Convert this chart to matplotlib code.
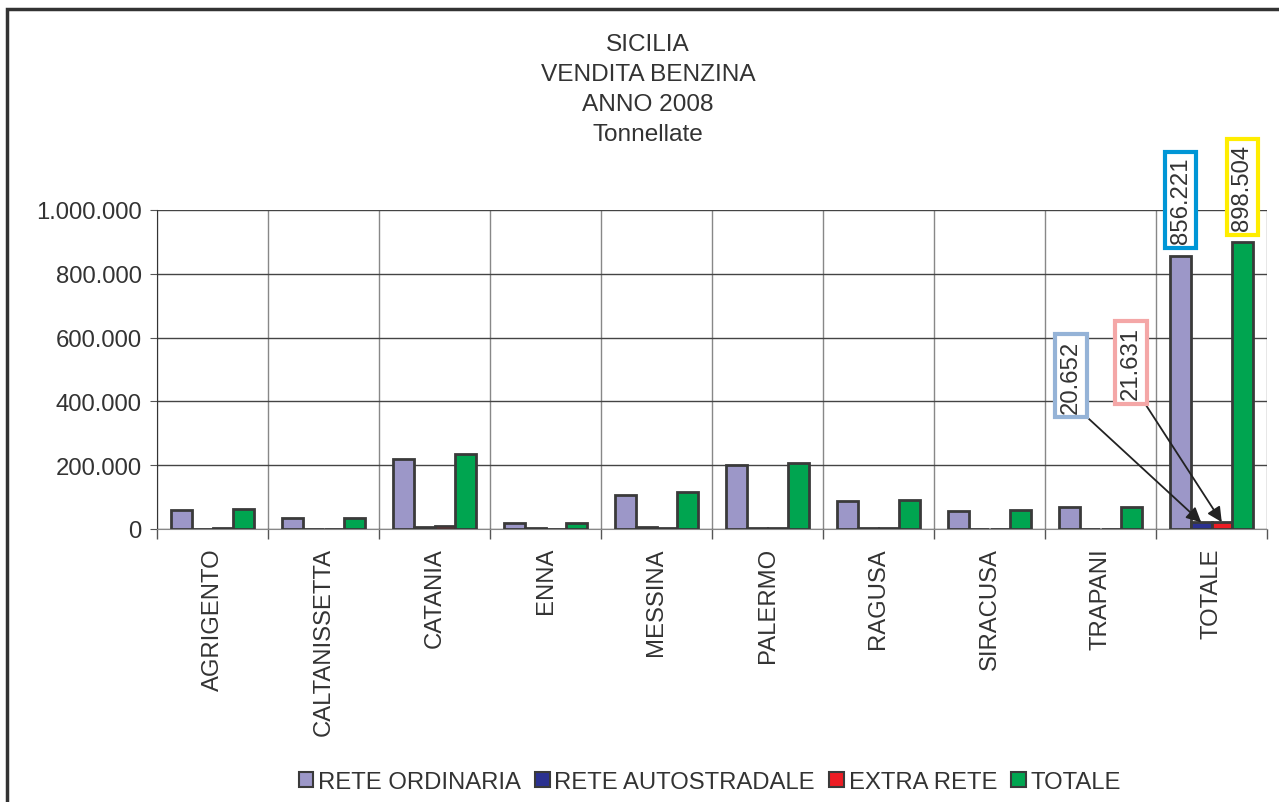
import numpy as np
import matplotlib
matplotlib.use("Agg")
import matplotlib.pyplot as plt
from matplotlib.ticker import FuncFormatter, FixedLocator
from matplotlib.patches import Rectangle, Patch

plt.rcParams['font.family'] = ['Liberation Sans', 'DejaVu Sans']

province = ['AGRIGENTO', 'CALTANISSETTA', 'CATANIA', 'ENNA', 'MESSINA',
            'PALERMO', 'RAGUSA', 'SIRACUSA', 'TRAPANI', 'TOTALE']
rete_ordinaria = [61000, 35500, 221000, 17500, 105500, 202000, 88000, 56000, 69721, 856221]
rete_autostradale = [0, 0, 6000, 2000, 7500, 2000, 1652, 1500, 0, 20652]
extra_rete = [2500, 500, 9000, 500, 3000, 2500, 2631, 1000, 0, 21631]
totale = [63500, 36000, 236000, 20000, 116000, 206500, 92283, 58500, 69721, 898504]

series = [('RETE ORDINARIA', rete_ordinaria, '#9c97c8'),
          ('RETE AUTOSTRADALE', rete_autostradale, '#2b3190'),
          ('EXTRA RETE', extra_rete, '#ed1c24'),
          ('TOTALE', totale, '#00a550')]

txt = '#333333'
fs = 17.2

fig = plt.figure(figsize=(12.79, 8.03), dpi=100)
ax = fig.add_axes([157 / 1279, 1 - 530 / 803, 1110 / 1279, 319 / 803])

x = np.arange(len(province))
w = 0.185
offsets = [-1.5, -0.5, 0.5, 1.5]
for (name, vals, col), off in zip(series, offsets):
    ax.bar(x + off * w, vals, width=w, color=col, edgecolor='#3a3a3a',
           linewidth=2, label=name, zorder=3)

ax.set_xlim(-0.5, len(province) - 0.5)
ax.set_ylim(0, 1000000)
ax.set_yticks(np.arange(0, 1000001, 200000))
ax.yaxis.set_major_formatter(FuncFormatter(lambda v, p: f'{int(v):,}'.replace(',', '.')))
ax.set_xticks(x)
ax.set_xticklabels(province, rotation=90, fontsize=fs, color=txt)
ax.xaxis.set_minor_locator(FixedLocator(np.arange(-0.5, len(province), 1)))
ax.tick_params(axis='x', which='major', length=0, pad=13)
ax.tick_params(axis='x', which='minor', length=7, color='#555555', width=1)
ax.tick_params(axis='y', length=5, color='#555555', labelsize=fs, labelcolor=txt, pad=6)
ax.grid(axis='y', color='#444444', linewidth=1, zorder=0)
ax.grid(axis='x', which='minor', color='#888888', linewidth=1, zorder=0)
for s in ['top', 'right']:
    ax.spines[s].set_visible(False)
ax.spines['left'].set_color('#333333')
ax.spines['bottom'].set_color('#888888')

# title
for i, line in enumerate(['SICILIA', 'VENDITA BENZINA', 'ANNO 2008', 'Tonnellate']):
    fig.text(648 / 1279, 1 - (45 + 30 * i) / 803, line, ha='center', va='center',
             fontsize=17.6, color=txt)

# value labels on TOTALE group
t = len(province) - 1
ax.annotate('856.221', xy=(t - 1.5 * w, rete_ordinaria[t]), xytext=(0, 9),
            textcoords='offset points', rotation=90, ha='center', va='bottom',
            fontsize=fs, color=txt,
            bbox=dict(boxstyle='square,pad=0.2', fc='white', ec='#0096d6', lw=3))
ax.annotate('898.504', xy=(t + 1.5 * w, totale[t]), xytext=(0, 9),
            textcoords='offset points', rotation=90, ha='center', va='bottom',
            fontsize=fs, color=txt,
            bbox=dict(boxstyle='square,pad=0.2', fc='white', ec='#ffed00', lw=3))
ax.annotate('20.652', xy=(t - 0.5 * w, rete_autostradale[t]), xytext=(7.734, 480000),
            rotation=90, ha='center', va='center', fontsize=fs, color=txt,
            bbox=dict(boxstyle='square,pad=0.2', fc='white', ec='#95b3d7', lw=3),
            arrowprops=dict(arrowstyle='-|>', color='#222222', lw=1.3,
                            mutation_scale=22, shrinkA=0, shrinkB=0, relpos=(1, 0)),
            zorder=5)
ax.annotate('21.631', xy=(t + 0.5 * w, extra_rete[t]), xytext=(8.275, 522000),
            rotation=90, ha='center', va='center', fontsize=fs, color=txt,
            bbox=dict(boxstyle='square,pad=0.2', fc='white', ec='#f4a7a7', lw=3),
            arrowprops=dict(arrowstyle='-|>', color='#222222', lw=1.3,
                            mutation_scale=22, shrinkA=0, shrinkB=0, relpos=(1, 0)),
            zorder=5)

handles = [Patch(facecolor=col, edgecolor='#3a3a3a', linewidth=1.5) for _, _, col in series]
fig.legend(handles, [s[0] for s in series], loc='center', ncol=4,
           bbox_to_anchor=(710 / 1279, 1 - 783 / 803), frameon=False,
           fontsize=fs, labelcolor=txt, handlelength=0.6, handleheight=0.6,
           handletextpad=0.2, columnspacing=0.6)

# outer frame
fig.add_artist(Rectangle((7 / 1279, -0.1), 1.2, 1 - 9.5 / 803 + 0.1,
                         transform=fig.transFigure, fill=False,
                         ec='#333333', lw=2.5))

fig.savefig('out.png', dpi=100)
